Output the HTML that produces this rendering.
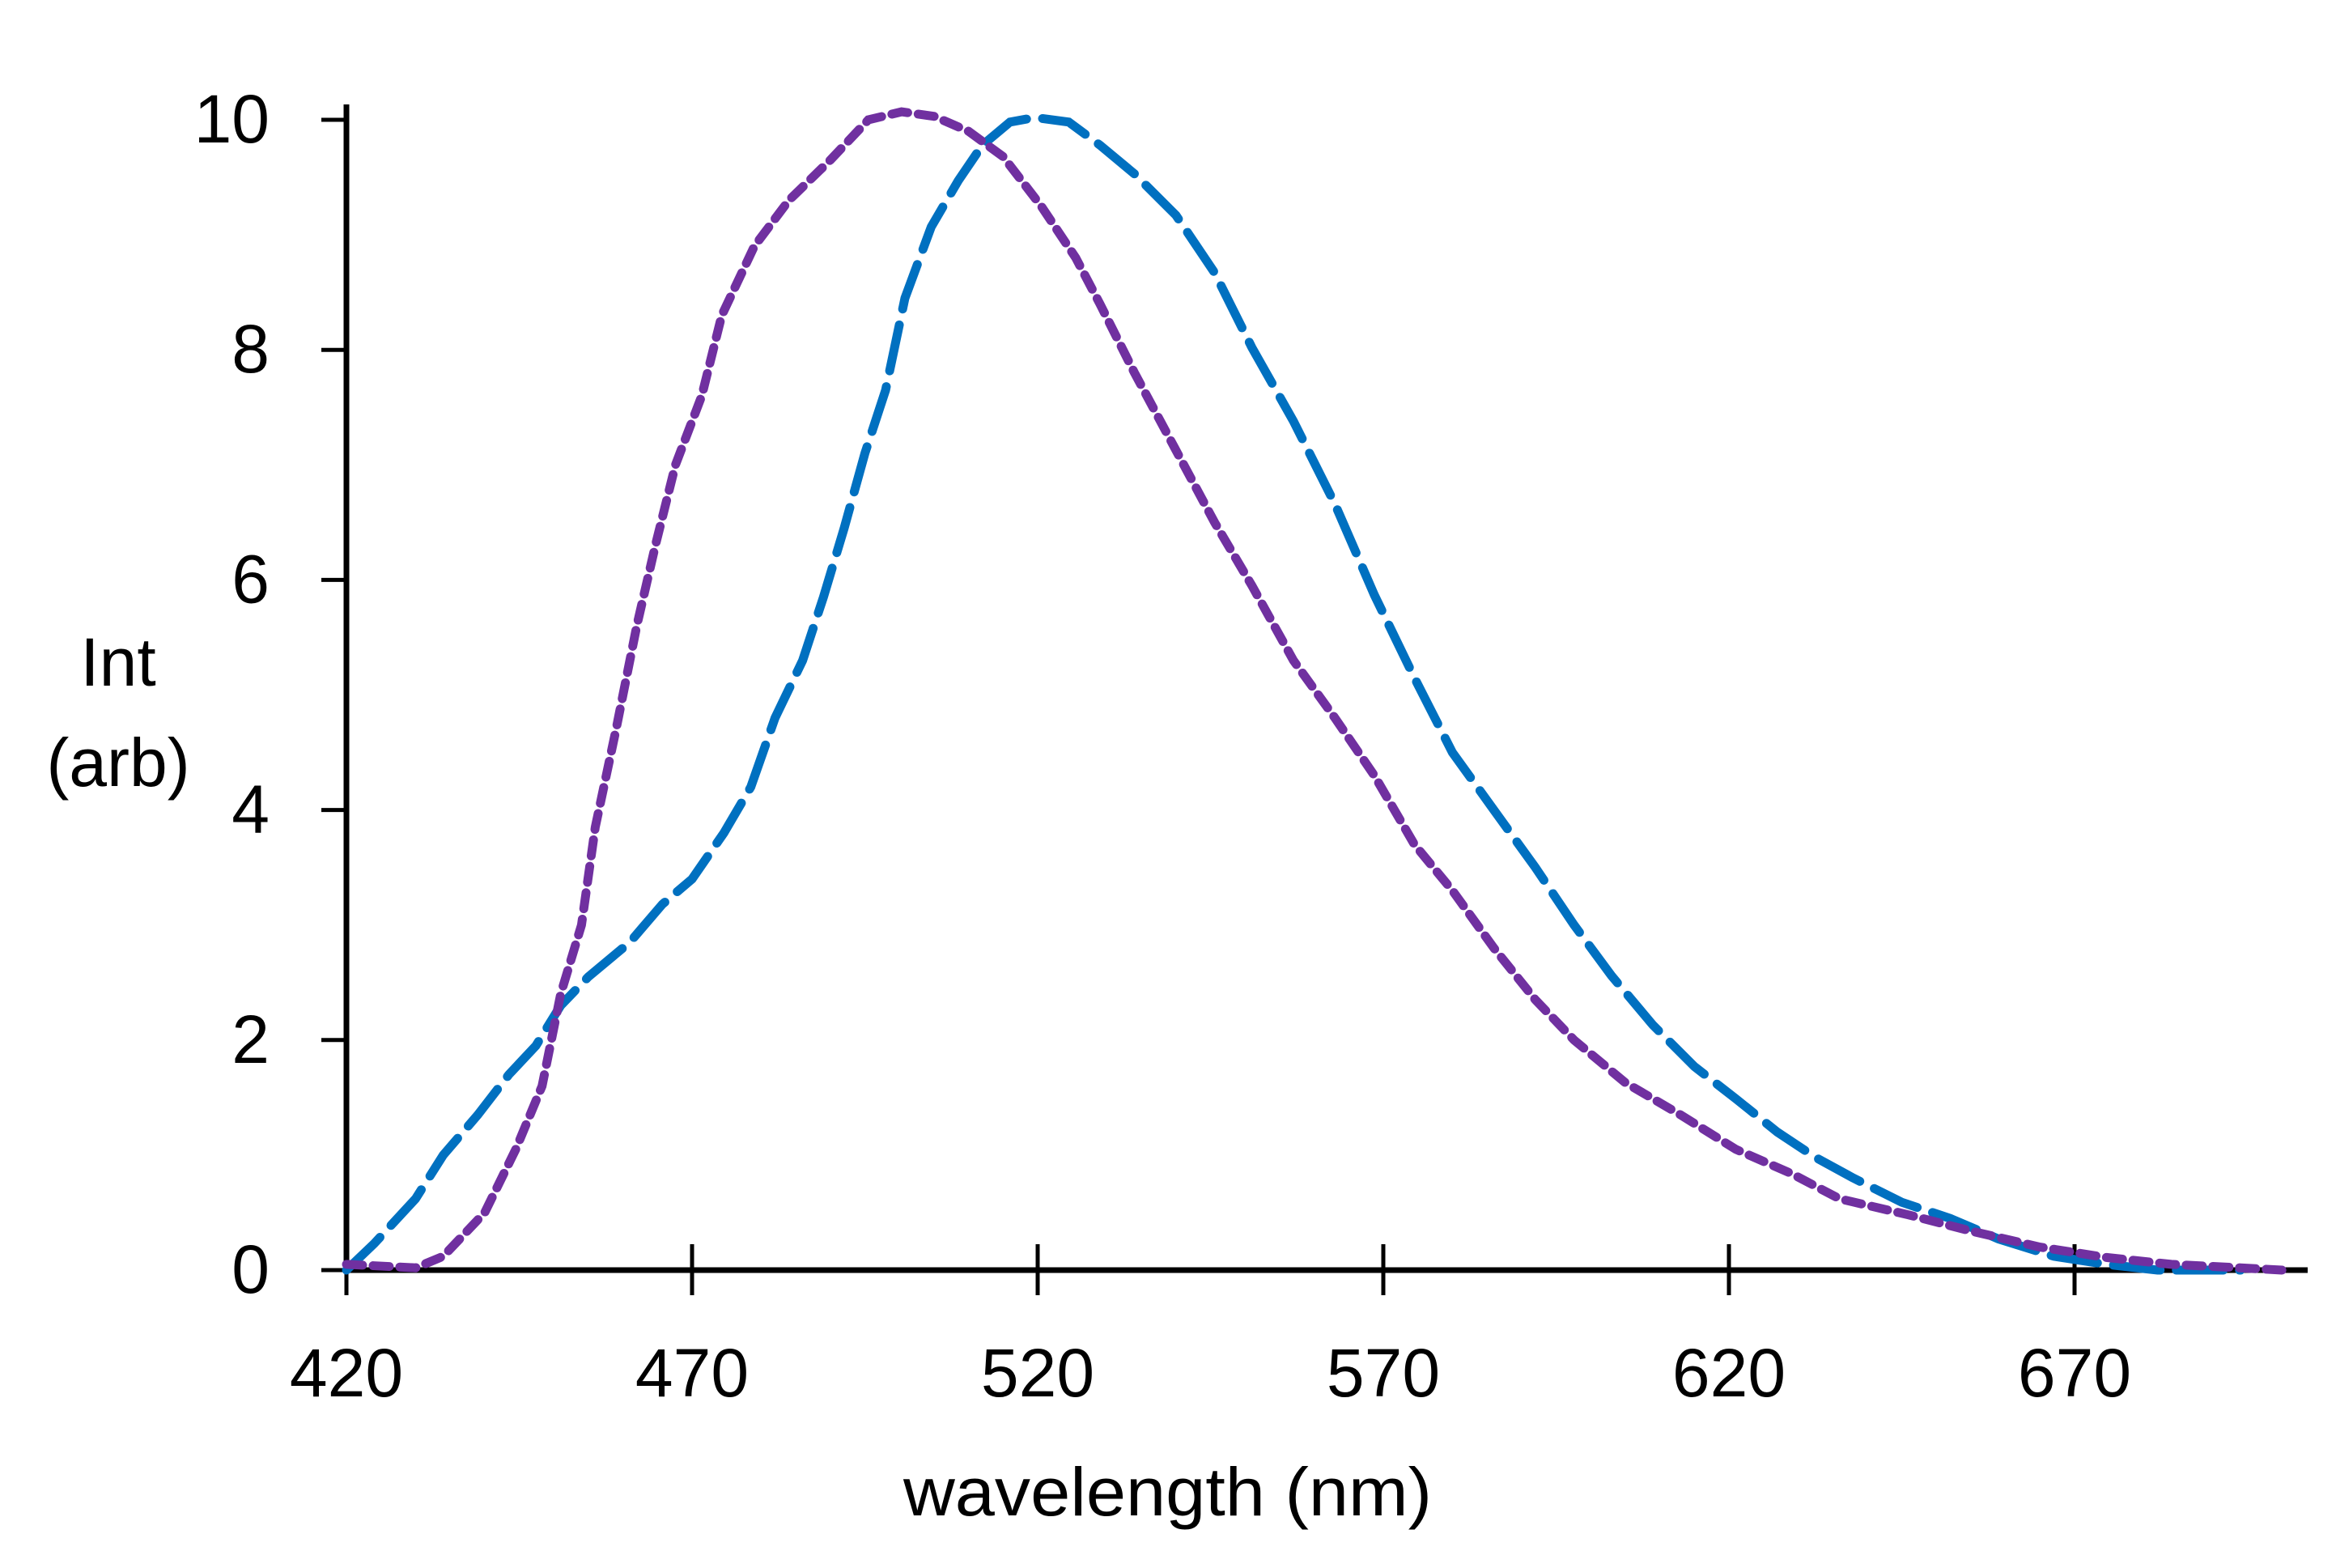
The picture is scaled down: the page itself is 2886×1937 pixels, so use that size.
<!DOCTYPE html>
<html><head><meta charset="utf-8"><style>
html,body{margin:0;padding:0;background:#fff;}
svg{display:block;}
text{font-family:"Liberation Sans",sans-serif;fill:#000;}
</style></head><body>
<svg id="chart" width="2886" height="1937" viewBox="0 0 2886 1937" xmlns="http://www.w3.org/2000/svg">
<g id="axes"></g>
<g id="series"></g>
<text x="146" y="847" font-size="84" text-anchor="middle">Int</text>
<text x="146" y="971" font-size="84" text-anchor="middle">(arb)</text>
<text x="1116" y="1872" font-size="84" textLength="653" lengthAdjust="spacingAndGlyphs">wavelength (nm)</text>
</svg>
<script>
const xTicks = [420, 470, 520, 570, 620, 670];
const yTicks = [0, 2, 4, 6, 8, 10];
const purpleX = [420,430,434,440,444.5,448.3,451,454,456,459,462,464.7,467.6,471.4,474.3,479,484,490,495.5,500.3,505,510,515,520.5,525.5,529,534,539.8,545.6,551,557,563,568.7,574.5,580,586,592,597.6,605,613,621,629,636,646,655,665,674.6,684,694,700];
const purpleY = [0.05,0.02,0.12,0.5,1.05,1.6,2.4,3.0,3.85,4.7,5.6,6.3,7.0,7.6,8.3,8.9,9.3,9.65,10.0,10.07,10.03,9.9,9.68,9.25,8.8,8.4,7.8,7.15,6.5,5.95,5.3,4.8,4.3,3.7,3.3,2.8,2.35,2.0,1.63,1.35,1.05,0.84,0.62,0.48,0.34,0.2,0.11,0.05,0.02,0];
const blueX = [420,424,430,434,439,443.5,447.4,451,455,461,465.7,470,474.6,478.5,482,486,489,492,495,498,500.8,504.6,508.5,512,516,519.6,524.5,529,534,540,545.6,551,557,563,568.7,574.5,580,586,592,597.6,603,609,615,621,627,632.5,638,645,652,659,667,674.6,682,694];
const blueY = [0,0.23,0.62,1.0,1.35,1.7,1.95,2.3,2.55,2.85,3.18,3.4,3.8,4.2,4.8,5.3,5.85,6.45,7.1,7.65,8.45,9.07,9.47,9.78,9.98,10.02,9.98,9.78,9.53,9.17,8.67,8.02,7.38,6.66,5.87,5.15,4.5,4.0,3.5,3.0,2.56,2.13,1.77,1.49,1.2,0.98,0.8,0.59,0.45,0.27,0.12,0.05,0,0];

const X0=428, XPER=427/50, Y0=1569, YPER=142.1;
function sx(v){return X0+(v-420)*XPER;}
function sy(v){return Y0-v*YPER;}
const NS="http://www.w3.org/2000/svg";
const axes=document.getElementById('axes');
const series=document.getElementById('series');
function mk(tag,attrs,parent){const e=document.createElementNS(NS,tag);for(const k in attrs)e.setAttribute(k,attrs[k]);parent.appendChild(e);return e;}

let yl=mk('line',{x1:X0,y1:129,x2:X0,y2:Y0,stroke:'#000','stroke-width':7},axes);


let xl=mk('line',{x1:X0-3,y1:Y0,x2:2851,y2:Y0,stroke:'#000','stroke-width':7},axes);


xTicks.forEach(t=>{
  const l=mk('line',{x1:sx(t),y1:1537,x2:sx(t),y2:1600,stroke:'#000','stroke-width':5},axes);
  
  
  const tx=mk('text',{x:sx(t),y:1725,'font-size':84,'text-anchor':'middle'},axes);
  tx.textContent=t;
  
  
});
yTicks.forEach(t=>{
  const l=mk('line',{x1:397,y1:sy(t),x2:X0,y2:sy(t),stroke:'#000','stroke-width':5},axes);
  
  
  const tx=mk('text',{x:333,y:sy(t)+28,'font-size':84,'text-anchor':'end'},axes);
  tx.textContent=t;
  
  
});
function pathOf(xs,ys){return xs.map((x,i)=>(i?'L':'M')+sx(x).toFixed(1)+' '+sy(ys[i]).toFixed(1)).join(' ');}
const bp=mk('path',{d:pathOf(blueX,blueY),fill:'none',stroke:'#0070C0','stroke-width':11,'stroke-dasharray':'58 20','stroke-linecap':'round'},series);


const pp=mk('path',{d:pathOf(purpleX,purpleY),fill:'none',stroke:'#7030A0','stroke-width':11,'stroke-dasharray':'20 13','stroke-linecap':'round'},series);


</script>
</body></html>
